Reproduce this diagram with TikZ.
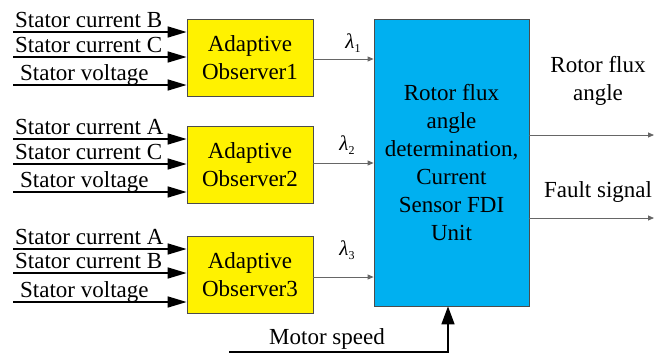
\documentclass[tikz,border=0pt]{standalone}
\usepackage{fontspec}
\setmainfont{Liberation Serif}
\usetikzlibrary{arrows.meta}
\newcommand{\lamsub}[1]{{\itshape λ}\raisebox{-0.45ex}{\fontsize{12}{12}\selectfont #1}}
\begin{document}
\begin{tikzpicture}[x=1pt,y=-1pt,
  every node/.style={font=\rmfamily\fontsize{23}{28}\selectfont, inner sep=0pt},
  obs/.style={draw=black!70, line width=0.8pt, fill=yellow, minimum width=126pt, minimum height=77pt, align=center},
  unit/.style={draw=black!70, line width=0.8pt, fill={rgb,255:red,0;green,176;blue,240}, minimum width=155pt, minimum height=287pt, align=center},
  inarrow/.style={line width=1.6pt, -{Triangle[length=19pt,width=11pt]}},
  outarrow/.style={draw=black!60, line width=0.8pt, -{Triangle[length=6pt,width=5pt]}},
  lbl/.style={anchor=base west},
  lam/.style={font=\rmfamily\fontsize{21}{24}\selectfont}]
\useasboundingbox (0,0) rectangle (654,354);

% blocks
\node[obs] (o1) at (250,57.5) {Adaptive\\Observer1};
\node[obs] (o2) at (250,164.5) {Adaptive\\Observer2};
\node[obs] (o3) at (250,274.5) {Adaptive\\Observer3};
\node[unit] (u) at (451.5,162.5) {Rotor flux\\angle\\determination,\\Current\\Sensor FDI\\Unit};

% inputs observer 1
\coordinate (a1) at (13,32);
\coordinate (b1) at (13,57);
\coordinate (c1) at (13,85);
\node[lbl] (ta1) at (15,27) {Stator current B};
\node[lbl] (tb1) at (15,52) {Stator current C};
\node[lbl] (tc1) at (20,80) {Stator voltage};
\draw[inarrow] (a1) -- (o1.west |- a1);
\draw[inarrow] (b1) -- (o1.west |- b1);
\draw[inarrow] (c1) -- (o1.west |- c1);

% inputs observer 2
\coordinate (a2) at (13,139);
\coordinate (b2) at (13,164);
\coordinate (c2) at (13,192);
\node[lbl] (ta2) at (15,134) {Stator current A};
\node[lbl] (tb2) at (15,159) {Stator current C};
\node[lbl] (tc2) at (20,187) {Stator voltage};
\draw[inarrow] (a2) -- (o2.west |- a2);
\draw[inarrow] (b2) -- (o2.west |- b2);
\draw[inarrow] (c2) -- (o2.west |- c2);

% inputs observer 3
\coordinate (a3) at (13,249);
\coordinate (b3) at (13,273);
\coordinate (c3) at (13,302);
\node[lbl] (ta3) at (15,244) {Stator current A};
\node[lbl] (tb3) at (15,268) {Stator current B};
\node[lbl] (tc3) at (20,297) {Stator voltage};
\draw[inarrow] (a3) -- (o3.west |- a3);
\draw[inarrow] (b3) -- (o3.west |- b3);
\draw[inarrow] (c3) -- (o3.west |- c3);

% observer outputs
\draw[outarrow] (o1.east |- 0,59) -- (u.west |- 0,59);
\draw[outarrow] (o2.east |- 0,163) -- (u.west |- 0,163);
\draw[outarrow] (o3.east |- 0,277) -- (u.west |- 0,277);
\node[lam] (l1) at (353,43) {\lamsub{1}};
\node[lam] (l2) at (347,145) {\lamsub{2}};
\node[lam] (l3) at (347,250) {\lamsub{3}};

% unit outputs
\coordinate (r1) at (654,135);
\coordinate (r2) at (654,218);
\draw[outarrow] (u.east |- r1) -- (r1);
\draw[outarrow] (u.east |- r2) -- (r2);
\node[align=center, anchor=base] (tr1) at (598,100) {Rotor flux\\angle};
\node[anchor=base] (tr2) at (598,197) {Fault signal};

% motor speed
\coordinate (m0) at (229,352);
\draw[line width=1.6pt, -{Triangle[length=18pt,width=13pt]}] (m0) -| (u.south -| 448,0);
\node[anchor=base] (tm) at (327,344) {Motor speed};
\end{tikzpicture}
\end{document}
